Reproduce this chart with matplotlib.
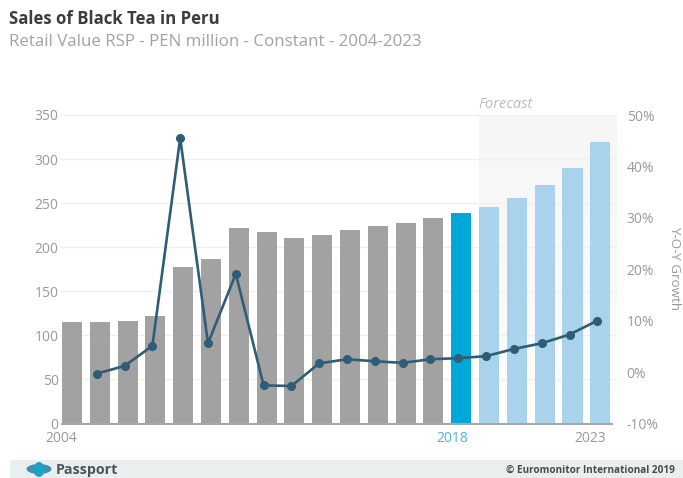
import numpy as np
import matplotlib
matplotlib.use('Agg')
import matplotlib.pyplot as plt
import matplotlib.transforms as mtransforms
from matplotlib.patches import Rectangle, Ellipse

years = list(range(2004, 2024))
sales = [115.5, 115, 116, 122, 177, 187, 222, 217, 210, 214,
         219.5, 224, 228, 233, 239, 246, 256, 271, 290, 319]
growth_years = years[1:]
growth = [-0.3, 1.2, 5.1, 45.5, 5.6, 19.1, -2.6, -2.7, 1.7, 2.5,
          2.1, 1.8, 2.5, 2.7, 3.1, 4.5, 5.6, 7.3, 10.0]
left_ticks = [0, 50, 100, 150, 200, 250, 300, 350]
right_ticks = [-10, 0, 10, 20, 30, 40, 50]
year_labels = [2004, 2018, 2023]
current_year = 2018

GREY_TEXT = '#9a9a9a'
W, H = 683, 478
plt.rcParams['font.family'] = ['Open Sans', 'DejaVu Sans']

fig = plt.figure(figsize=(W / 100, H / 100), dpi=100)
ax = fig.add_axes([60 / W, 1 - 423.5 / H, 557 / W, 308.5 / H])

colors = []
for y in years:
    if y < current_year:
        colors.append('#a3a2a2')
    elif y == current_year:
        colors.append('#00a8d8')
    else:
        colors.append('#a9d3ec')

# forecast band fades out towards the baseline
fade = np.linspace(1, 0, 256).reshape(-1, 1)
band = np.ones((256, 1, 4))
band[..., :3] = 0.965
band[..., 3] = fade[:, :] ** 0.6
ax.imshow(band, extent=[2018.64, 2023.6, 0, 350], aspect='auto', zorder=0)

ax.set_yticks(left_ticks)
ax.grid(axis='y', color='#f0f0f0', lw=1)
ax.set_axisbelow(True)
ax.bar(years, sales, width=0.72, color=colors, zorder=2)
ax.set_xlim(2003.57, 2023.6)
ax.set_ylim(0, 350)
ax.hlines(0, 2003.6, 2023.45, color='#a8a8a8', lw=1.5, zorder=3, clip_on=False)

ax.tick_params(axis='y', length=0, labelsize=10, labelcolor=GREY_TEXT, pad=1)
ax.set_xticks([])
for s in ax.spines.values():
    s.set_visible(False)

# only three years get a label, shifted left of their bars
offsets = {2004: -11, 2018: -9, 2023: -10}
for y in year_labels:
    ax.annotate(str(y), xy=(y, 0), xytext=(offsets[y], -15.5), textcoords='offset pixels',
                ha='center', va='center', fontsize=10,
                color='#4db8d8' if y == current_year else GREY_TEXT)

ax2 = ax.twinx()
ax2.set_ylim(-10, 50)
ax2.set_yticks(right_ticks)
ax2.set_yticklabels([f'{v}%' for v in right_ticks])
ax2.tick_params(axis='y', length=0, labelsize=10, labelcolor=GREY_TEXT, pad=7)
for s in ax2.spines.values():
    s.set_visible(False)
# growth points sit slightly left of the bar centres
line_trans = mtransforms.offset_copy(ax2.transData, fig=fig, x=-3, y=0, units='dots')
ax2.plot(growth_years, growth, color='#2f5d78', lw=1.9, marker='o', ms=5.5,
         mfc='#2f5d78', mec='#2f5d78', zorder=5, transform=line_trans)

fig.text(506 / W, 1 - 104.5 / H, 'Forecast', ha='center', va='center', style='italic',
         fontsize=10.5, color='#bcbcbc')
fig.text(675 / W, 1 - 268 / H, 'Y-O-Y Growth', rotation=270, ha='center', va='center',
         fontsize=9.6, color=GREY_TEXT)
fig.text(9 / W, 1 - 19 / H, 'Sales of Black Tea in Peru', ha='left', va='center',
         fontsize=12.1, fontweight='bold', color='#3c3c3c')
fig.text(9 / W, 1 - 42.5 / H, 'Retail Value RSP - PEN million - Constant - 2004-2023',
         ha='left', va='center', fontsize=12.15, color='#a2a2a2')

# footer strip with the logo and source line
fig.add_artist(Rectangle((10 / W, 0), 673 / W, 18 / H, transform=fig.transFigure,
                         color='#e9eeee', lw=0))
fig.add_artist(Ellipse((39 / W, 1 - 469 / H), 25 / W, 10 / H, transform=fig.transFigure,
                       color='#3f8fb8', lw=0))
fig.add_artist(Ellipse((39 / W, 1 - 469.5 / H), 11 / W, 15 / H, transform=fig.transFigure,
                       color='#1fa3c4', lw=0))
fig.text(56 / W, 1 - 470 / H, 'Passport', ha='left', va='center', fontsize=10.3,
         fontweight='bold', color='#4a565c')
fig.text(675 / W, 1 - 470.5 / H, '© Euromonitor International 2019', ha='right', va='center',
         fontsize=7.2, fontweight='bold', color='#4a4a4a')

fig.savefig('out.png', dpi=100)
